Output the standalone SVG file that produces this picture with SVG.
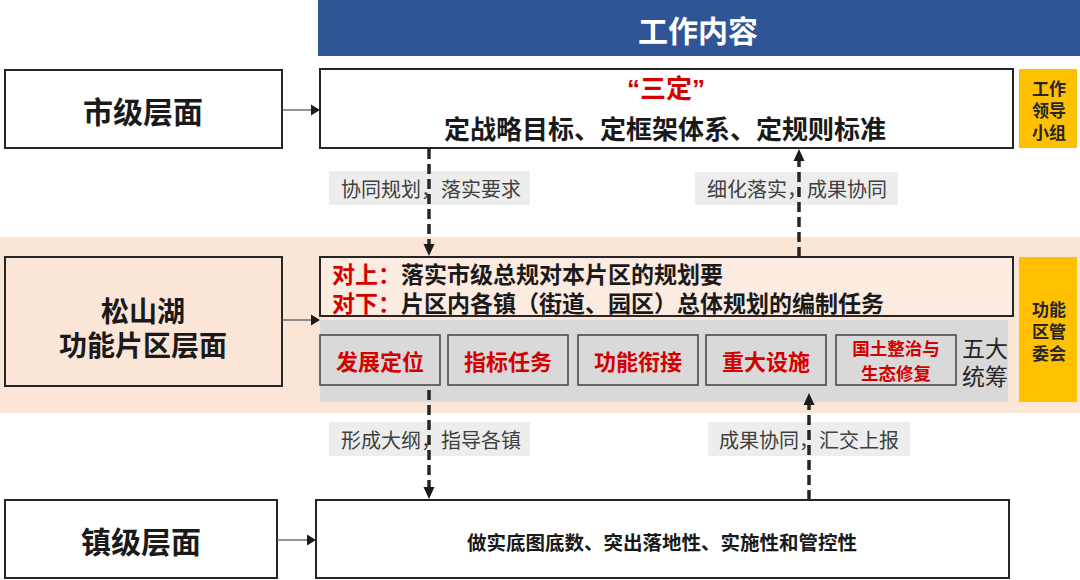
<svg xmlns="http://www.w3.org/2000/svg" width="1080" height="580" viewBox="0 0 1080 580">
<style>
text{font-family:"Noto Sans CJK SC","Noto Sans CJK JP",sans-serif;dominant-baseline:central;text-anchor:middle}
.b{font-weight:700}
.box{fill:#fff;stroke:#262626;stroke-width:2}
.peach{fill:#FBE5D6;stroke:#262626;stroke-width:2}
.gbox{fill:#D9D9D9;stroke:#404040;stroke-width:1.5}
.yel{fill:#FFC000}
.red{fill:#D40000}
.lvl{font-size:30px;font-weight:700;fill:#1a1a1a}
.lvl2{font-size:28px;font-weight:700;fill:#1a1a1a}
.item{font-size:22px;font-weight:700;fill:#D40000}
.lblbg{fill:#EDEDED}
.lbl{font-size:20px;fill:#404040}
.ytxt{font-size:17px;font-weight:700;fill:#262626}
.dash{stroke:#262626;stroke-width:3.5;stroke-dasharray:10 5;fill:none}
.solid{stroke:#595959;stroke-width:1.3;fill:none}
.head{fill:#1a1a1a}
</style>
<rect x="0" y="0" width="1080" height="580" fill="#fff"/>
<!-- bands -->
<rect x="0" y="237" width="1080" height="176" fill="#FBE5D6"/>
<rect x="320" y="320" width="688" height="82" fill="#D9D9D9"/>

<g id="header">
<rect x="318" y="0" width="762" height="56" fill="#2F5597"/>
<text x="698" y="29" class="b" font-size="30" fill="#fff">工作内容</text>
</g>

<g id="city-level">
<rect class="box" x="5" y="70" width="277" height="78"/>
<text x="143" y="110" class="lvl">市级层面</text>
</g>
<g id="city-content">
<rect class="box" x="320" y="69" width="693" height="79"/>
<text x="666" y="89" font-size="26" class="b red" style="font-family:'Liberation Sans','Noto Sans CJK SC',sans-serif">“三定”</text>
<text x="665" y="127" font-size="26" class="b" fill="#1a1a1a">定战略目标、定框架体系、定规则标准</text>
</g>
<g id="city-yellow">
<rect class="yel" x="1019" y="69" width="58" height="79"/>
<text class="ytxt" x="1049" y="87"><tspan x="1049" y="87">工作</tspan><tspan x="1049" y="109">领导</tspan><tspan x="1049" y="131">小组</tspan></text>
</g>

<g id="area-level">
<rect class="peach" x="5" y="257" width="277" height="129"/>
<text class="lvl2" x="143" y="310"><tspan x="143" y="310">松山湖</tspan><tspan x="143" y="344">功能片区层面</tspan></text>
</g>
<g id="area-content">
<rect x="320" y="257" width="693" height="59" fill="#FCEBE1" stroke="#262626" stroke-width="2"/>
<text x="332" y="273" font-size="23" class="b" style="text-anchor:start"><tspan x="332" y="273" fill="#D40000">对上：</tspan><tspan fill="#1a1a1a">落实市级总规对本片区的规划要</tspan><tspan x="332" y="302" fill="#D40000">对下：</tspan><tspan fill="#1a1a1a">片区内各镇（街道、园区）总体规划的编制任务</tspan></text>
</g>
<g id="item1"><rect class="gbox" x="320" y="335" width="120" height="50"/><text class="item" x="380" y="360">发展定位</text></g>
<g id="item2"><rect class="gbox" x="448" y="335" width="120" height="50"/><text class="item" x="508" y="360">指标任务</text></g>
<g id="item3"><rect class="gbox" x="578" y="335" width="120" height="50"/><text class="item" x="638" y="360">功能衔接</text></g>
<g id="item4"><rect class="gbox" x="706" y="335" width="120" height="50"/><text class="item" x="766" y="360">重大设施</text></g>
<g id="item5"><rect class="gbox" x="836" y="335" width="120" height="50"/>
<text x="896" y="347" font-size="17.5" class="b red"><tspan x="896" y="347">国土整治与</tspan><tspan x="896" y="372">生态修复</tspan></text></g>
<g id="five">
<text x="985" y="347" font-size="23" fill="#262626"><tspan x="985" y="347">五大</tspan><tspan x="985" y="375">统筹</tspan></text>
</g>
<g id="area-yellow">
<rect class="yel" x="1019" y="257" width="58" height="145"/>
<text class="ytxt" x="1049" y="308"><tspan x="1049" y="308">功能</tspan><tspan x="1049" y="330">区管</tspan><tspan x="1049" y="352">委会</tspan></text>
</g>

<g id="town-level">
<rect class="box" x="5" y="500" width="272" height="78"/>
<text x="141" y="540" class="lvl">镇级层面</text>
</g>
<g id="town-content">
<rect class="box" x="316" y="500" width="693" height="78"/>
<text x="662" y="541" font-size="19.5" class="b" fill="#1a1a1a">做实底图底数、突出落地性、实施性和管控性</text>
</g>

<g id="labels">
<rect class="lblbg" x="329" y="171" width="201" height="34"/>
<text class="lbl" x="431" y="188">协同规划，落实要求</text>
<rect class="lblbg" x="695" y="172" width="203" height="33"/>
<text class="lbl" x="797" y="188">细化落实，成果协同</text>
<rect class="lblbg" x="329" y="422" width="201" height="34"/>
<text class="lbl" x="431" y="439">形成大纲，指导各镇</text>
<rect class="lblbg" x="708" y="422" width="202" height="34"/>
<text class="lbl" x="809" y="439">成果协同，汇交上报</text>
</g>

<g id="connectors">
<line class="solid" x1="282" y1="110" x2="312" y2="110"/>
<polygon class="head" points="311,104.5 320,110 311,115.5"/>
<line class="solid" x1="282" y1="320" x2="312" y2="320"/>
<polygon class="head" points="311,314.5 320,320 311,325.5"/>
<line class="solid" x1="277" y1="540" x2="308" y2="540"/>
<polygon class="head" points="307,534.5 316,540 307,545.5"/>

<line class="dash" x1="429" y1="149" x2="429" y2="245"/>
<polygon class="head" points="423.5,244 434.5,244 429,256"/>
<line class="dash" x1="799" y1="257" x2="799" y2="160"/>
<polygon class="head" points="793.5,161 804.5,161 799,149"/>
<line class="dash" x1="429" y1="390" x2="429" y2="488"/>
<polygon class="head" points="423.5,487 434.5,487 429,499"/>
<line class="dash" x1="809" y1="500" x2="809" y2="404"/>
<polygon class="head" points="803.5,405 814.5,405 809,393"/>
</g>
</svg>
